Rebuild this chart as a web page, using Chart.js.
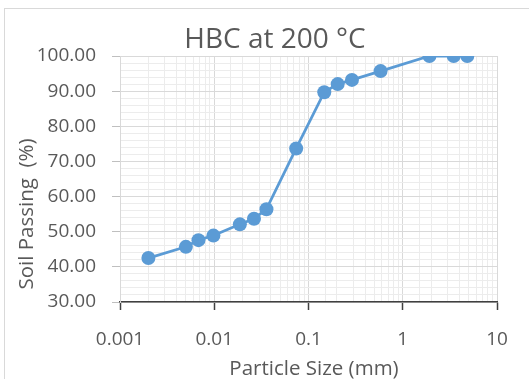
<!DOCTYPE html>
<html>
<head>
<meta charset="utf-8">
<script src="https://cdn.jsdelivr.net/npm/chart.js@4/dist/chart.umd.min.js"></script>
<style>
  html, body { margin: 0; padding: 0; background: #fff; }
  #wrap { position: relative; width: 529px; height: 379px; }
</style>
</head>
<body>
<div id="wrap"><canvas id="c" width="529" height="379"></canvas></div>
<script>
const chartTitle = 'HBC at 200 °C';
const xTitle = 'Particle Size (mm)';
const yTitle = 'Soil Passing  (%)';
const particleSize = [0.002, 0.005, 0.0068, 0.0098, 0.0187, 0.0264, 0.0358, 0.074, 0.147, 0.204, 0.289, 0.582, 1.92, 3.47, 4.84];
const soilPassing = [42.5, 45.7, 47.6, 48.9, 52.1, 53.7, 56.4, 73.7, 89.7, 92.0, 93.2, 95.7, 100, 100, 100];
const xMin = 0.001, xMax = 10;
const yMin = 30, yMax = 100, yStep = 2, yMajor = 10;

const textColor = '#595959';
const fontFamily = '"Open Sans", "Liberation Sans", sans-serif';

const isPow10 = v => Math.abs(Math.log10(v) - Math.round(Math.log10(v))) < 1e-9;

const textPlugin = {
  id: 'textPlugin',
  beforeDraw(chart) {
    const ctx = chart.ctx;
    ctx.save();
    ctx.strokeStyle = '#d9d9d9';
    ctx.lineWidth = 1;
    ctx.strokeRect(4.5, 8.5, 600, 600);
    ctx.restore();
  },
  afterDraw(chart) {
    const ctx = chart.ctx;
    ctx.save();
    ctx.fillStyle = textColor;
    ctx.textBaseline = 'alphabetic';
    ctx.textAlign = 'center';
    // chart title
    ctx.font = '28px ' + fontFamily;
    ctx.fillText(chartTitle, 275, 48);
    // x axis title
    ctx.font = '20.5px ' + fontFamily;
    ctx.fillText(xTitle, 314, 375);
    // y axis title
    ctx.translate(33, 214);
    ctx.rotate(-Math.PI / 2);
    ctx.fillText(yTitle, 0, 0);
    ctx.restore();
  }
};

new Chart(document.getElementById('c'), {
  type: 'line',
  data: {
    datasets: [{
      data: particleSize.map((x, i) => ({ x: x, y: soilPassing[i] })),
      borderColor: '#5B9BD5',
      backgroundColor: '#5B9BD5',
      borderWidth: 2.75,
      pointRadius: 7,
      pointHoverRadius: 7,
      pointBorderWidth: 0,
      tension: 0
    }]
  },
  options: {
    responsive: false,
    animation: false,
    events: [],
    layout: { padding: { left: 0, right: 32, top: 56, bottom: 0 } },
    plugins: {
      legend: { display: false },
      tooltip: { enabled: false },
      title: { display: false }
    },
    scales: {
      x: {
        type: 'logarithmic',
        min: xMin, max: xMax,
        afterFit(s) { s.height = 77; },
        border: { color: '#404040', width: 1.5 },
        grid: {
          color: c => (c.tick && isPow10(c.tick.value)) ? '#d9d9d9' : '#ececec',
          tickColor: c => (c.tick && isPow10(c.tick.value)) ? '#404040' : 'rgba(0,0,0,0)',
          tickLength: 8,
          tickWidth: 1.5
        },
        ticks: {
          autoSkip: false,
          maxRotation: 0,
          color: textColor,
          padding: 18,
          font: { family: fontFamily, size: 19 },
          callback: v => isPow10(v) ? String(+v.toPrecision(1)) : ''
        }
      },
      y: {
        min: yMin, max: yMax,
        afterFit(s) { s.width = 120; },
        border: { color: '#d9d9d9', width: 1 },
        grid: {
          color: c => (c.tick && c.tick.value % yMajor === 0) ? '#d9d9d9' : '#ececec',
          tickColor: c => (c.tick && c.tick.value % yMajor === 0) ? '#bfbfbf' : 'rgba(0,0,0,0)',
          tickLength: 8
        },
        ticks: {
          stepSize: yStep,
          autoSkip: false,
          color: textColor,
          padding: 16,
          font: { family: fontFamily, size: 19 },
          callback: v => (v % yMajor === 0) ? v.toFixed(2) : ''
        }
      }
    }
  },
  plugins: [textPlugin]
});
</script>
</body>
</html>
